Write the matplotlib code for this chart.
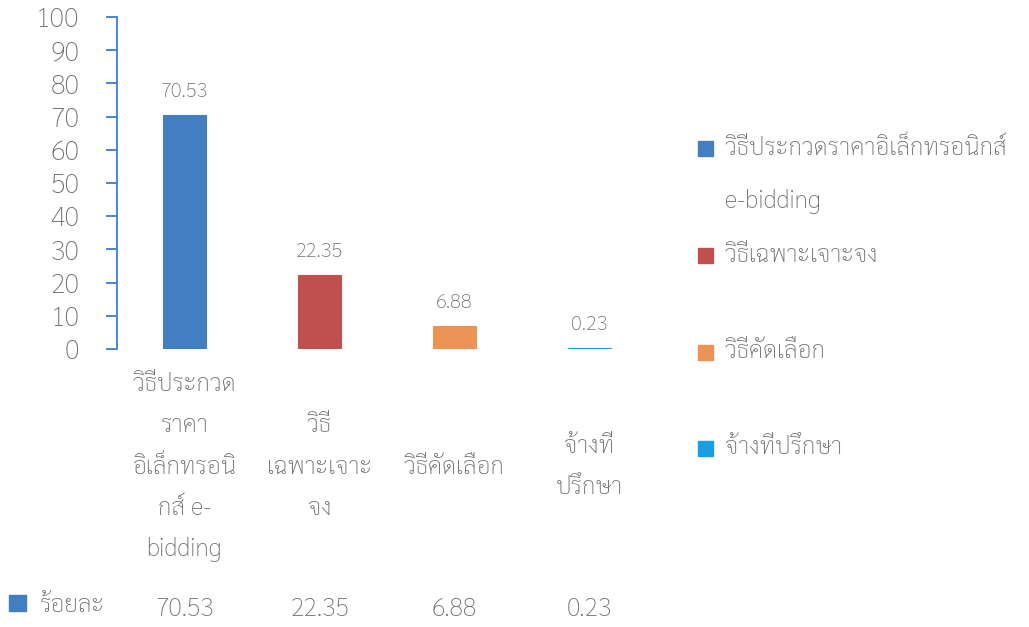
import matplotlib
matplotlib.use('Agg')
import matplotlib.pyplot as plt
from matplotlib.patches import Rectangle
from matplotlib.transforms import blended_transform_factory

FONTS = ['Sarabun', 'Noto Sans Thai Looped', 'Noto Sans Thai', 'DejaVu Sans']
plt.rcParams['font.family'] = FONTS
plt.rcParams['font.weight'] = 'light'

# ---- data ----
categories = ['วิธีประกวดราคาอิเล็กทรอนิกส์ e-bidding', 'วิธีเฉพาะเจาะจง',
              'วิธีคัดเลือก', 'จ้างที่ปรึกษา']
table_labels = [['วิธีประกวด', 'ราคา', 'อิเล็กทรอนิ', 'กส์ e-', 'bidding'],
                ['วิธี', 'เฉพาะเจาะ', 'จง'],
                ['วิธีคัดเลือก'],
                ['จ้างที่', 'ปรึกษา']]
legend_labels = [['วิธีประกวดราคาอิเล็กทรอนิกส์', 'e-bidding'],
                 ['วิธีเฉพาะเจาะจง'],
                 ['วิธีคัดเลือก'],
                 ['จ้างที่ปรึกษา']]
values = [70.53, 22.35, 6.88, 0.23]
value_text = ['70.53', '22.35', '6.88', '0.23']
series_name = 'ร้อยละ'
colors = ['#437fc0', '#c0504d', '#eb9455', '#1a9ee3']
yticks = [0, 10, 20, 30, 40, 50, 60, 70, 80, 90, 100]

GRAY = '#707070'
AXBLUE = '#3b7dd0'

W, H = 1029, 627
fig = plt.figure(figsize=(W / 100, H / 100), dpi=100)
# axes: x from 117px to 657px, y from 17px (100) to 349px (0)
ax = fig.add_axes([117 / W, 1 - 349 / H, 540 / W, 332 / H])

x = list(range(len(values)))
ax.bar(x, values, width=0.32, color=colors, edgecolor=colors, linewidth=0.8)
ax.set_xlim(-0.5, len(values) - 0.5)
ax.set_ylim(0, 100)

for s in ['top', 'right', 'bottom']:
    ax.spines[s].set_visible(False)
ax.spines['left'].set_color(AXBLUE)
ax.spines['left'].set_linewidth(1.3)
ax.set_yticks(yticks)
ax.set_yticklabels([str(t) for t in yticks])
ax.tick_params(axis='y', direction='out', length=8, width=1.3, color=AXBLUE,
               labelcolor=GRAY, labelsize=19.5, pad=19)
ax.set_xticks([])

# value labels above bars
for xi, v, t in zip(x, values, value_text):
    ax.annotate(t, (xi, v), xytext=(0, 10), textcoords='offset points',
                ha='center', va='bottom', fontsize=14.5, color=GRAY)

# data table under the axis: category labels (vertically centred) + value row
trans = blended_transform_factory(ax.transData, ax.transAxes)
axh = 332.0
center_px = 467 - 349  # below axis bottom
line_px = 41.5
for xi, lines in zip(x, table_labels):
    n = len(lines)
    for i, ln in enumerate(lines):
        ypx = center_px + (i - (n - 1) / 2) * line_px
        ax.text(xi, -ypx / axh, ln, transform=trans, ha='center', va='center',
                fontsize=17.5, color=GRAY)
row_y = -(609 - 349) / axh
for xi, t in zip(x, value_text):
    ax.text(xi, row_y, t, transform=trans, ha='center', va='center',
            fontsize=18, color=GRAY)
# series key in the table row
fig.patches.append(Rectangle((9 / W, 1 - 611 / H), 17 / W, 16 / H,
                             transform=fig.transFigure, color=colors[0]))
fig.text(40 / W, 1 - 605 / H, series_name, ha='left', va='center',
         fontsize=17.5, color=GRAY)

# legend on the right
leg_y = [148, 255, 352, 448]
for c, lines, yp in zip(colors, legend_labels, leg_y):
    fig.patches.append(Rectangle((698 / W, 1 - (yp + 8) / H), 15 / W, 15 / H,
                                 transform=fig.transFigure, color=c))
    for i, ln in enumerate(lines):
        fig.text(725 / W, 1 - (yp + i * 53) / H, ln, ha='left', va='center',
                 fontsize=17.5, color=GRAY)

fig.savefig('out.png', dpi=100, facecolor='white')
